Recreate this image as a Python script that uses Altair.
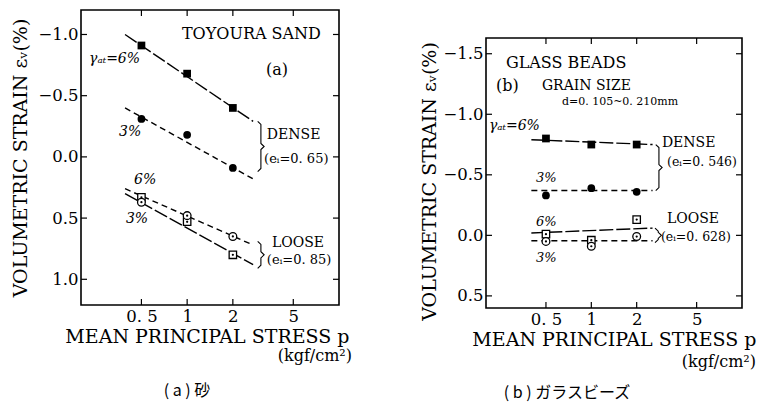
import altair as alt
import pandas as pd

FONT = "DejaVu Serif"
JP = "Noto Sans CJK JP"

# ---------------- data ----------------
P = [0.5, 1, 2]                      # mean principal stress (kgf/cm2)
X_TICKS = [0.5, 1, 2, 5]

# (a) Toyoura sand
A_DENSE_6 = [-0.91, -0.68, -0.40]
A_DENSE_3 = [-0.31, -0.18, 0.09]
A_LOOSE_6 = [0.33, 0.53, 0.80]
A_LOOSE_3 = [0.37, 0.48, 0.65]
A_FIT_P = [0.39, 2.72]
A_FIT_DENSE_6 = [-1.00, -0.29]
A_FIT_DENSE_3 = [-0.40, 0.18]
A_FIT_LOOSE_6 = [0.30, 0.88]
A_FIT_LOOSE_3 = [0.26, 0.72]
A_Y_TICKS = [-1.0, -0.5, 0.0, 0.5, 1.0]
A_Y_DOMAIN = [-1.2, 1.21]
A_BRACKETS = [(3.06, -0.29, 0.12), (3.06, 0.69, 0.91)]

# (b) glass beads
B_DENSE_6 = [-0.80, -0.75, -0.75]
B_DENSE_3 = [-0.33, -0.39, -0.36]
B_LOOSE_6 = [-0.01, 0.04, -0.13]
B_LOOSE_3 = [0.05, 0.09, 0.01]
B_FIT_P = [0.40, 2.55]
B_FIT_DENSE_6 = [-0.79, -0.75]
B_FIT_DENSE_3 = [-0.37, -0.37]
B_FIT_LOOSE_6 = [-0.02, -0.06]
B_FIT_LOOSE_3 = [0.045, 0.045]
B_Y_TICKS = [-1.5, -1.0, -0.5, 0.0, 0.5]
B_Y_DOMAIN = [-1.63, 0.60]
B_BRACKETS = [(2.81, -0.75, -0.37), (2.78, -0.06, 0.06)]

# annotations: text, p, strain, font size
A_TEXT = [("TOYOURA SAND", 0.924, -1.00, 16), ("(a)", 3.30, -0.71, 16),
          ("DENSE", 3.35, -0.18, 14), ("(eᵢ=0. 65)", 3.21, 0.016, 13),
          ("LOOSE", 3.62, 0.70, 14), ("(eᵢ=0. 85)", 3.35, 0.84, 13)]
A_TEXT_IT = [("γₐₜ=6%", 0.226, -0.80, 14), ("3%", 0.356, -0.20, 14),
             ("6%", 0.447, 0.19, 14), ("3%", 0.395, 0.51, 14)]
B_TEXT = [("GLASS BEADS", 0.271, -1.42, 16), ("(b)", 0.233, -1.23, 16),
          ("GRAIN SIZE", 0.47, -1.23, 14), ("d=0. 105~0. 210mm", 0.638, -1.10, 11),
          ("DENSE", 2.94, -0.763, 14), ("(eᵢ=0. 546)", 3.18, -0.606, 12.5),
          ("LOOSE", 3.18, -0.135, 14), ("(eᵢ=0. 628)", 2.90, 0.014, 12.5)]
B_TEXT_IT = [("γₐₜ=6%", 0.209, -0.90, 14), ("3%", 0.429, -0.474, 13),
             ("6%", 0.429, -0.11, 13), ("3%", 0.429, 0.188, 13)]

X_TITLE = "MEAN PRINCIPAL STRESS p"
Y_TITLE = "VOLUMETRIC STRAIN εᵥ(%)"
UNIT = "(kgf/cm²)"


def bracket_df(brs):
    rows = []
    for i, (xb, y1, y2) in enumerate(brs):
        ym = (y1 + y2) / 2
        e = 0.025
        pts = [(xb / 1.05, y1), (xb, y1 + e), (xb, ym - e), (xb * 1.05, ym),
               (xb, ym + e), (xb, y2 - e), (xb / 1.05, y2)]
        for j, (x, y) in enumerate(pts):
            rows.append({"p": x, "ev": y, "s": i, "o": j})
    return pd.DataFrame(rows)


def panel(d6, d3, l6, l3, fit_p, f_d6, f_d3, f_l6, f_l3, yticks, ydom, brs,
          texts, texts_it, W, H, ytp, ytitleY, xtitleX, unitX, unitY,
          caption, capX, capY):
    xs = alt.Scale(type="log", domain=[0.2, 10], nice=False)
    ys = alt.Scale(domain=ydom, reverse=True, nice=False, zero=False)
    xaxis = alt.Axis(values=X_TICKS, title=X_TITLE,
                     labelExpr="datum.value == 0.5 ? '0. 5' : datum.label",
                     labelPadding=3, titleX=xtitleX, titleY=37,
                     titleAlign="right", titleBaseline="alphabetic")
    yaxis_kw = dict(values=yticks, format=".1f", title=Y_TITLE,
                    labelPadding=3, titlePadding=ytp)
    if ytitleY is not None:
        yaxis_kw["titleY"] = ytitleY
    yaxis = alt.Axis(**yaxis_kw)

    def X(f):
        return alt.X(f, type="quantitative", scale=xs, axis=xaxis)

    def Y(f):
        return alt.Y(f, type="quantitative", scale=ys, axis=yaxis)

    fits_solid = pd.DataFrame({"p": fit_p * 2, "ev": f_d6 + f_l6,
                               "s": [0, 0, 1, 1], "o": [0, 1, 0, 1]})
    fits_dash = pd.DataFrame({"p": fit_p * 2, "ev": f_d3 + f_l3,
                              "s": [0, 0, 1, 1], "o": [0, 1, 0, 1]})
    l_solid = alt.Chart(fits_solid).mark_line(color="black", strokeWidth=1.4,
                                              strokeDash=[14, 3]).encode(
        x=X("p"), y=Y("ev"), detail="s:N", order="o:Q")
    l_dash = alt.Chart(fits_dash).mark_line(color="black", strokeWidth=1.4,
                                            strokeDash=[6, 4]).encode(
        x=X("p"), y=Y("ev"), detail="s:N", order="o:Q")
    l_br = alt.Chart(bracket_df(brs)).mark_line(color="black", strokeWidth=1.1).encode(
        x=X("p"), y=Y("ev"), detail="s:N", order="o:Q")

    sq_f = alt.Chart(pd.DataFrame({"p": P, "ev": d6})).mark_point(
        shape="square", filled=True, size=60, color="black", opacity=1).encode(x=X("p"), y=Y("ev"))
    ci_f = alt.Chart(pd.DataFrame({"p": P, "ev": d3})).mark_point(
        shape="circle", filled=True, size=60, color="black", opacity=1).encode(x=X("p"), y=Y("ev"))
    sq_o = alt.Chart(pd.DataFrame({"p": P, "ev": l6})).mark_point(
        shape="square", filled=True, size=55, fill="white", stroke="black",
        strokeWidth=1.3, opacity=1).encode(x=X("p"), y=Y("ev"))
    ci_o = alt.Chart(pd.DataFrame({"p": P, "ev": l3})).mark_point(
        shape="circle", filled=True, size=60, fill="white", stroke="black",
        strokeWidth=1.3, opacity=1).encode(x=X("p"), y=Y("ev"))
    dots = alt.Chart(pd.DataFrame({"p": P * 2, "ev": l6 + l3})).mark_point(
        shape="circle", filled=True, size=5, color="black", opacity=1).encode(x=X("p"), y=Y("ev"))

    # inward ticks on all four sides
    xt = pd.DataFrame({"t": X_TICKS})
    yt = pd.DataFrame({"t": yticks})
    t_bot = alt.Chart(xt).mark_rule(color="black", strokeWidth=1.2).encode(
        x=X("t"), y=alt.value(H), y2=alt.value(H - 6))
    t_top = alt.Chart(xt).mark_rule(color="black", strokeWidth=1.2).encode(
        x=X("t"), y=alt.value(0), y2=alt.value(6))
    t_left = alt.Chart(yt).mark_rule(color="black", strokeWidth=1.2).encode(
        y=Y("t"), x=alt.value(0), x2=alt.value(6))
    t_right = alt.Chart(yt).mark_rule(color="black", strokeWidth=1.2).encode(
        y=Y("t"), x=alt.value(W), x2=alt.value(W - 6))

    tdf = pd.DataFrame(texts, columns=["txt", "p", "ev", "fs"])
    tdf_it = pd.DataFrame(texts_it, columns=["txt", "p", "ev", "fs"])
    txt = alt.Chart(tdf).mark_text(font=FONT, align="left", baseline="middle",
                                   color="black").encode(
        x=X("p"), y=Y("ev"), text="txt:N", size=alt.Size("fs:Q", scale=None, legend=None))
    txt_it = alt.Chart(tdf_it).mark_text(font=FONT, fontStyle="italic", align="left",
                                         baseline="middle", color="black").encode(
        x=X("p"), y=Y("ev"), text="txt:N", size=alt.Size("fs:Q", scale=None, legend=None))

    unit = alt.Chart(pd.DataFrame({"t": [UNIT]})).mark_text(
        font=FONT, fontSize=16, align="right", baseline="middle", color="black").encode(
        text="t:N", x=alt.value(unitX), y=alt.value(unitY))
    cap = alt.Chart(pd.DataFrame({"t": [caption]})).mark_text(
        font=JP, fontSize=16, align="center", baseline="middle", color="black").encode(
        text="t:N", x=alt.value(capX), y=alt.value(capY))

    return alt.layer(l_solid, l_dash, l_br, sq_f, ci_f, sq_o, ci_o, dots,
                     t_bot, t_top, t_left, t_right, txt, txt_it, unit,
                     cap).properties(width=W, height=H)


WA, HA = 258, 295
WB, HB = 256, 270
B_TOP_GAP = 25

chart_a = panel(A_DENSE_6, A_DENSE_3, A_LOOSE_6, A_LOOSE_3, A_FIT_P,
                A_FIT_DENSE_6, A_FIT_DENSE_3, A_FIT_LOOSE_6, A_FIT_LOOSE_3,
                A_Y_TICKS, A_Y_DOMAIN, A_BRACKETS, A_TEXT, A_TEXT_IT,
                WA, HA, 7, None, WA + 10, WA + 13, HA + 51,
                "( a )  砂", 106, HA + 86)

chart_b = panel(B_DENSE_6, B_DENSE_3, B_LOOSE_6, B_LOOSE_3, B_FIT_P,
                B_FIT_DENSE_6, B_FIT_DENSE_3, B_FIT_LOOSE_6, B_FIT_LOOSE_3,
                B_Y_TICKS, B_Y_DOMAIN, B_BRACKETS, B_TEXT, B_TEXT_IT,
                WB, HB, 3, 143, WB + 14, WB + 14, HB + 54,
                "( b )  ガラスビーズ", 81, HB + 85)

# invisible spacer that lowers the frame of panel (b)
spacer = alt.Chart(pd.DataFrame({"t": [0]})).mark_rule(strokeOpacity=0).encode(
    x=alt.value(0), y=alt.value(0), y2=alt.value(1)
).properties(width=WB, height=B_TOP_GAP,
             view=alt.ViewBackground(stroke="transparent"))

col_b = alt.vconcat(spacer, chart_b, spacing=0)

chart = alt.hconcat(
    chart_a, col_b, spacing=67,
    padding={"left": 3, "top": 0, "right": 0, "bottom": 0}
).configure_view(
    stroke="black", strokeWidth=1.6
).configure_axis(
    grid=False, domain=False, ticks=False, tickSize=0,
    labelFont=FONT, labelFontSize=16.5, labelColor="black",
    titleFont=FONT, titleFontSize=19, titleFontWeight="normal", titleColor="black"
)

chart.save("out.html", embed_options={"renderer": "svg", "actions": False})
